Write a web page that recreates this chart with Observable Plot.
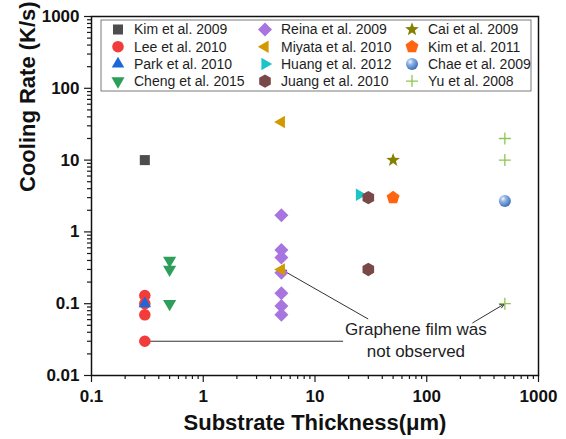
<!DOCTYPE html>
<html>
<head>
<meta charset="utf-8">
<script src="https://cdn.jsdelivr.net/npm/d3@7"></script>
<script src="https://cdn.jsdelivr.net/npm/@observablehq/plot@0.6"></script>
<style>
  html, body { margin: 0; padding: 0; background: #fff; }
  #chart svg { display: block; }
</style>
</head>
<body>
<div id="chart"></div>
<script>
// Substrate thickness (µm) and cooling rate (K/s) reported by each study
const kim2009 = [[0.3, 10]];
const lee2010 = [[0.3, 0.13], [0.3, 0.1], [0.3, 0.07], [0.3, 0.03]];
const park2010 = [[0.3, 0.1]];
const cheng2015 = [[0.5, 0.4], [0.5, 0.3], [0.5, 0.1]];
const reina2009 = [[5, 1.7], [5, 0.56], [5, 0.44], [5, 0.27], [5, 0.14], [5, 0.093], [5, 0.07]];
const miyata2010 = [[5, 34], [5, 0.3]];
const huang2012 = [[25, 3.3]];
const juang2010 = [[30, 3], [30, 0.3]];
const cai2009 = [[50, 10]];
const kim2011 = [[50, 3]];
const chae2009 = [[500, 2.7]];
const yu2008 = [[500, 20], [500, 10], [500, 0.1]];

const studyNames = [
  "Kim et al. 2009", "Lee et al. 2010", "Park et al. 2010", "Cheng et al. 2015",
  "Reina et al. 2009", "Miyata et al. 2010", "Huang et al. 2012", "Juang et al. 2010",
  "Cai et al. 2009", "Kim et al. 2011", "Chae et al. 2009", "Yu et al. 2008"
];
const studyData = [
  kim2009, lee2010, park2010, cheng2015,
  reina2009, miyata2010, huang2012, juang2010,
  cai2009, kim2011, chae2009, yu2008
];

// Runs where no graphene film formed, and where the note's arrows start
const notObserved = [lee2010[3], miyata2010[1], yu2008[2]];
const arrowTails = [[17.7, 0.03], [29.7, 0.0616], [258, 0.0542]];
const noteText = "Graphene film was\nnot observed";
const noteAt = [80, 0.032];

// Axis ticks
const xTicks = [0.1, 1, 10, 100, 1000];
const yTicks = [0.01, 0.1, 1, 10, 100, 1000];
const minorSteps = [2, 3, 4, 5, 6, 7, 8, 9];
const xMinor = xTicks.slice(0, -1).flatMap(d => minorSteps.map(k => d * k));
const yMinor = yTicks.slice(0, -1).flatMap(d => minorSteps.map(k => d * k));

// Marker shapes
const poly = (n, rad, rot = 0) => ({
  draw(ctx) {
    for (let i = 0; i < n; ++i) {
      const a = rot + (2 * Math.PI * i) / n;
      const px = rad * Math.sin(a), py = -rad * Math.cos(a);
      i ? ctx.lineTo(px, py) : ctx.moveTo(px, py);
    }
    ctx.closePath();
  }
});
const star = (ro, ri) => ({
  draw(ctx) {
    for (let i = 0; i < 10; ++i) {
      const rr = i % 2 ? ri : ro, a = (Math.PI * i) / 5;
      const px = rr * Math.sin(a), py = -rr * Math.cos(a);
      i ? ctx.lineTo(px, py) : ctx.moveTo(px, py);
    }
    ctx.closePath();
  }
});
const disc = rad => ({ draw(ctx) { ctx.moveTo(rad, 0); ctx.arc(0, 0, rad, 0, 2 * Math.PI); } });
const cross = h => ({ draw(ctx) { ctx.moveTo(-h, 0); ctx.lineTo(h, 0); ctx.moveTo(0, -h); ctx.lineTo(0, h); } });

const studyStyles = [
  { shape: poly(4, 7.1, Math.PI / 4), fill: "#4d4d4d" },
  { shape: disc(5.8), fill: "#f23c3c" },
  { shape: poly(3, 7.2, 0), fill: "#1c68d8" },
  { shape: poly(3, 7.6, Math.PI), fill: "#2f9e5b" },
  { shape: poly(4, 7, 0), fill: "#a874e0" },
  { shape: poly(3, 7.2, -Math.PI / 2), fill: "#d39a00" },
  { shape: poly(3, 7.2, Math.PI / 2), fill: "#1cc4c8" },
  { shape: poly(6, 6.7, 0), fill: "#7a4848" },
  { shape: star(7.2, 3), fill: "#858000" },
  { shape: poly(5, 6.8, 0), fill: "#ff6410" },
  { shape: disc(6), fill: "url(#chae-sphere)" },
  { shape: cross(6), fill: "none", stroke: "#8dc653" }
];

const font = "'Liberation Sans', Arial, Helvetica, sans-serif";

// Shaded-sphere gradient plus the boxed three-column key
function key(index, scales, values, dims) {
  const g = d3.create("svg:g");
  const grad = g.append("defs").append("radialGradient")
    .attr("id", "chae-sphere").attr("cx", "35%").attr("cy", "32%").attr("r", "70%");
  grad.append("stop").attr("offset", "0%").attr("stop-color", "#f2f7ff");
  grad.append("stop").attr("offset", "35%").attr("stop-color", "#8fb4e6");
  grad.append("stop").attr("offset", "100%").attr("stop-color", "#3d6fb8");

  const left = dims.marginLeft + 10, top = dims.marginTop + 4;
  g.append("rect")
    .attr("x", left).attr("y", top).attr("width", 430).attr("height", 71)
    .attr("fill", "#fff").attr("stroke", "#7a7a7a").attr("stroke-width", 1);
  studyNames.forEach((name, i) => {
    const col = Math.floor(i / 4), row = i % 4;
    const cx = left + 17 + col * 147, cy = top + 9.5 + row * 17.2;
    const st = studyStyles[i];
    g.append("path")
      .attr("transform", `translate(${cx},${cy})`)
      .attr("d", d3.symbol(st.shape, 64)())
      .attr("fill", st.fill)
      .attr("stroke", st.stroke || "none")
      .attr("stroke-width", st.stroke ? 1.3 : null);
    g.append("text")
      .attr("x", cx + 16).attr("y", cy).attr("dy", "0.35em")
      .attr("text-anchor", "start")
      .attr("font-size", 14).attr("font-family", font).attr("fill", "#1e1e1e")
      .text(name);
  });
  return g.node();
}

const dotMarks = studyData.map((rows, i) => Plot.dot(rows, {
  x: d => d[0],
  y: d => d[1],
  symbol: studyStyles[i].shape,
  r: 5,
  fill: studyStyles[i].fill,
  stroke: studyStyles[i].stroke || "none",
  strokeWidth: studyStyles[i].stroke ? 1.3 : undefined
}));

// minor ticks: tick-only axes without labels
const tickStyle = { stroke: "#1a1a1a", strokeWidth: 1.2, fill: "none", label: null };
const labelStyle = {
  tickFormat: d => String(d), fontSize: 17, fontWeight: "bold", label: null,
  stroke: "#1a1a1a", strokeWidth: 1.2, fill: "#111"
};

const chart = Plot.plot({
  width: 566,
  height: 439,
  marginLeft: 91,
  marginRight: 28,
  marginTop: 16,
  marginBottom: 64,
  style: { fontFamily: font, background: "#fff", color: "#111" },
  x: { type: "log", domain: [0.1, 1000] },
  y: { type: "log", domain: [0.01, 1000] },
  marks: [
    Plot.axisX({ ...tickStyle, ticks: xMinor, tickSize: 4 }),
    Plot.axisY({ ...tickStyle, ticks: yMinor, tickSize: 4 }),
    Plot.axisX({ ...labelStyle, ticks: xTicks, tickSize: 7, tickPadding: 7 }),
    Plot.axisY({ ...labelStyle, ticks: yTicks, tickSize: 7, tickPadding: 5 }),
    Plot.frame({ stroke: "#111", strokeWidth: 1.5 }),
    Plot.text(["Substrate Thickness(\u03bcm)"], {
      frameAnchor: "bottom", dy: 54, fontSize: 22, fontWeight: "bold", fill: "#111"
    }),
    Plot.text(["Cooling Rate (K/s)"], {
      frameAnchor: "left", rotate: -90, dx: -64, dy: -4, fontSize: 22, fontWeight: "bold", fill: "#111"
    }),
    Plot.arrow(notObserved, {
      x1: (d, i) => arrowTails[i][0],
      y1: (d, i) => arrowTails[i][1],
      x2: d => d[0],
      y2: d => d[1],
      insetEnd: (d, i) => [13, 5, 5][i],
      stroke: "#333",
      strokeWidth: 1,
      headLength: 8,
      headAngle: 40
    }),
    ...dotMarks,
    Plot.text([noteText], {
      x: () => noteAt[0], y: () => noteAt[1],
      fontSize: 17, lineHeight: 1.24, fill: "#1e1e1e"
    }),
    key
  ]
});

document.getElementById("chart").append(chart);
</script>
</body>
</html>
